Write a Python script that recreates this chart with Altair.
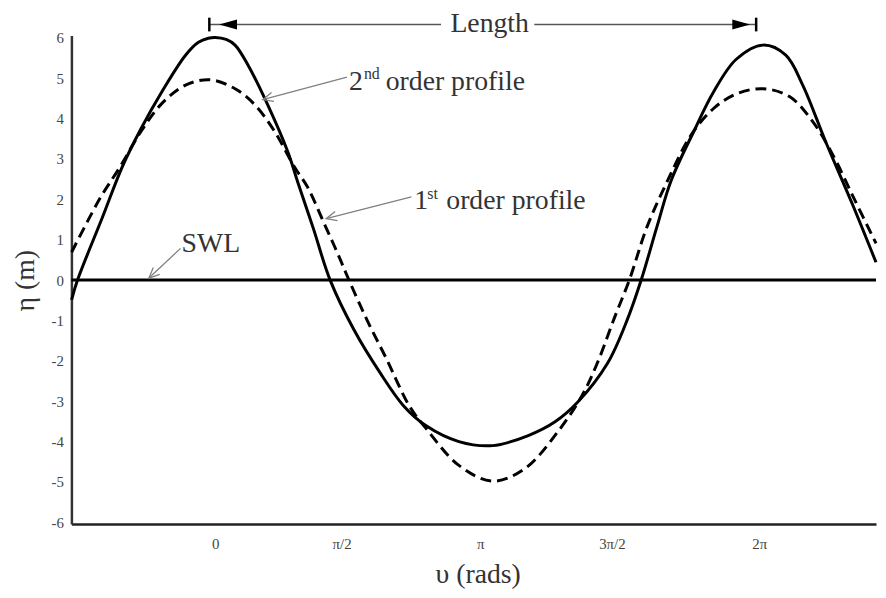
import altair as alt
import pandas as pd

# ---------------- data ----------------
# 2nd order (Stokes) profile - solid line
solid_x = [-1.648, -1.580, -1.295, -1.068, -0.852, -0.614, -0.341, -0.193, -0.080, 0.0,
           0.125, 0.227, 0.375, 0.602, 0.830, 0.943, 1.125, 1.318, 1.591, 1.886,
           2.159, 2.420, 2.795, 3.182, 3.591, 3.898, 4.159, 4.500, 4.727, 4.886,
           5.068, 5.227, 5.489, 5.716, 5.977, 6.284, 6.545, 6.739, 7.000, 7.307, 7.580]
solid_y = [-0.49, 0.0, 1.55, 2.80, 3.75, 4.66, 5.57, 5.89, 5.99, 6.01,
           5.96, 5.82, 5.33, 4.34, 3.19, 2.45, 1.28, 0.0, -1.23, -2.28,
           -3.11, -3.61, -4.00, -4.10, -3.85, -3.51, -3.02, -2.06, -0.98, 0.0,
           1.33, 2.45, 3.68, 4.66, 5.47, 5.82, 5.57, 4.83, 3.44, 1.89, 0.44]

# 1st order (linear) profile - dashed line
dashed_x = [-1.648, -1.318, -1.102, -0.852, -0.614, -0.341, -0.057, 0.227, 0.455, 0.682,
            0.909, 1.057, 1.250, 1.398, 1.534, 1.739, 1.966, 2.227, 2.420, 2.795,
            3.182, 3.557, 3.932, 4.205, 4.386, 4.580, 4.750, 4.955, 5.182, 5.455,
            5.716, 5.977, 6.284, 6.591, 6.852, 7.080, 7.341, 7.580]
dashed_y = [0.69, 2.04, 2.77, 3.68, 4.37, 4.83, 4.96, 4.74, 4.34, 3.68,
            2.80, 2.31, 1.40, 0.69, 0.0, -0.98, -1.96, -3.12, -3.68, -4.59,
            -4.98, -4.66, -3.75, -2.87, -2.04, -0.93, 0.0, 1.33, 2.43, 3.58,
            4.25, 4.61, 4.74, 4.54, 3.93, 3.12, 1.96, 0.91]

# axis ticks
x_tick_values = [0.0, 1.45, 3.04, 4.55, 6.24]
x_tick_labels = ["0", "π/2", "π", "3π/2", "2π"]
y_tick_values = [-6, -5, -4, -3, -2, -1, 0, 1, 2, 3, 4, 5, 6]

# ---------------- layout / styling ----------------
FONT = "Liberation Serif"
TXT = "#333333"
BIG = 28
SMALL = 16

xs = alt.Scale(domain=[-1.65, 7.58], nice=False, zero=False)
ys = alt.Scale(domain=[-6.04, 6.06], nice=False, zero=False)

solid_df = pd.DataFrame({"u": solid_x, "eta": solid_y})
dashed_df = pd.DataFrame({"u": dashed_x, "eta": dashed_y})

vals_js = "[" + ",".join(str(v) for v in x_tick_values) + "]"
labs_js = "[" + ",".join("'" + s + "'" for s in x_tick_labels) + "]"

x_axis = alt.Axis(
    values=x_tick_values, labelExpr=f"{labs_js}[indexof({vals_js}, datum.value)]",
    title="υ (rads)", ticks=False, grid=False, domainColor="#222222", domainWidth=2.5,
    labelFont=FONT, labelFontSize=15, labelColor="#444444", labelPadding=13,
    titleFont=FONT, titleFontSize=BIG, titleFontWeight="normal", titleColor=TXT,
    titleX=410, titleY=51, titleBaseline="middle", titleAlign="center",
)
y_axis = alt.Axis(
    values=y_tick_values, labelExpr="'' + datum.value",
    title="η (m)", ticks=False, grid=False, domainColor="#333333", domainWidth=2.5,
    labelFont=FONT, labelFontSize=15, labelColor="#444444", labelPadding=8,
    titleFont=FONT, titleFontSize=BIG, titleFontWeight="normal", titleColor=TXT,
    titleX=-46, titleY=247, titleBaseline="middle", titleAlign="center", titleAngle=270,
)


def X(field):
    return alt.X(field, scale=xs, axis=x_axis)


def Y(field):
    return alt.Y(field, scale=ys, axis=y_axis)


solid = alt.Chart(solid_df).mark_line(
    color="black", strokeWidth=3, interpolate="catmull-rom"
).encode(x=X("u:Q"), y=Y("eta:Q"), order="u:Q")

dashed = alt.Chart(dashed_df).mark_line(
    color="black", strokeWidth=3, strokeDash=[11, 6], interpolate="catmull-rom"
).encode(x=X("u:Q"), y=Y("eta:Q"), order="u:Q")

swl = alt.Chart(pd.DataFrame({"y": [0.0]})).mark_rule(
    color="black", strokeWidth=3
).encode(y=Y("y:Q"))

# thin grey pointer lines with open arrow heads
pointers = pd.DataFrame({
    "x": [1.511, 2.250, -0.398],
    "y": [5.03, 2.06, 0.785],
    "x2": [0.545, 1.273, -0.761],
    "y2": [4.47, 1.52, 0.05],
    "ang": [344.9, 345.6, 316.9],
})
pointer_lines = alt.Chart(pointers).mark_rule(color="#808080", strokeWidth=1.3).encode(
    x=X("x:Q"), y=Y("y:Q"), x2="x2:Q", y2="y2:Q",
)
pointer_heads = alt.Chart(pointers).mark_point(
    shape="M2,-0.9L0,0L2,0.9", filled=False, color="#808080", strokeWidth=1.3,
    size=110, opacity=1,
).encode(x=X("x2:Q"), y=Y("y2:Q"), angle=alt.Angle("ang:Q", scale=None))

# "Length" dimension arrow
len_segments = pd.DataFrame({"x": [-0.068, 3.66], "x2": [2.59, 6.205], "y": [6.33, 6.33]})
len_lines = alt.Chart(len_segments).mark_rule(color="#555555", strokeWidth=1.5).encode(
    x=X("x:Q"), x2="x2:Q", y=Y("y:Q"),
)
len_bars = alt.Chart(pd.DataFrame({"x": [-0.068, 6.205], "y": [6.16, 6.16], "y2": [6.50, 6.50]})).mark_rule(
    color="black", strokeWidth=2.5
).encode(x=X("x:Q"), y=Y("y:Q"), y2="y2:Q")
head_left = alt.Chart(pd.DataFrame({"x": [0.045], "y": [6.33]})).mark_point(
    shape="M0,0L2,-0.55L2,0.55Z", filled=True, color="black", size=324, opacity=1
).encode(x=X("x:Q"), y=Y("y:Q"))
head_right = alt.Chart(pd.DataFrame({"x": [6.136], "y": [6.33]})).mark_point(
    shape="M0,0L-2,-0.55L-2,0.55Z", filled=True, color="black", size=324, opacity=1
).encode(x=X("x:Q"), y=Y("y:Q"))

length_text = alt.Chart(pd.DataFrame({"x": [3.148], "y": [6.33], "t": ["Length"]})).mark_text(
    font=FONT, fontSize=BIG, color=TXT, align="center", baseline="middle"
).encode(x=X("x:Q"), y=Y("y:Q"), text="t:N")

labels = pd.DataFrame({
    "x": [-0.386, 1.534, 1.955, 2.284, 2.650],
    "y": [0.88, 4.91, 4.91, 1.96, 1.96],
    "t": ["SWL", "2", "order profile", "1", "order profile"],
})
label_text = alt.Chart(labels).mark_text(
    font=FONT, fontSize=BIG, color=TXT, align="left", baseline="middle"
).encode(x=X("x:Q"), y=Y("y:Q"), text="t:N")

sups = pd.DataFrame({"x": [1.705, 2.432], "y": [5.10, 2.14], "t": ["nd", "st"]})
sup_text = alt.Chart(sups).mark_text(
    font=FONT, fontSize=SMALL, color=TXT, align="left", baseline="middle"
).encode(x=X("x:Q"), y=Y("y:Q"), text="t:N")

chart = alt.layer(
    swl, dashed, solid, pointer_lines, pointer_heads,
    len_lines, len_bars, head_left, head_right, length_text, label_text, sup_text,
).properties(
    width=812, height=493,
    autosize=alt.AutoSizeParams(type="none"),
    padding={"left": 64, "top": 25, "right": 2, "bottom": 64},
    background="white",
).configure_view(stroke=None)

chart.save("out.html", embed_options={"renderer": "svg", "actions": False})
